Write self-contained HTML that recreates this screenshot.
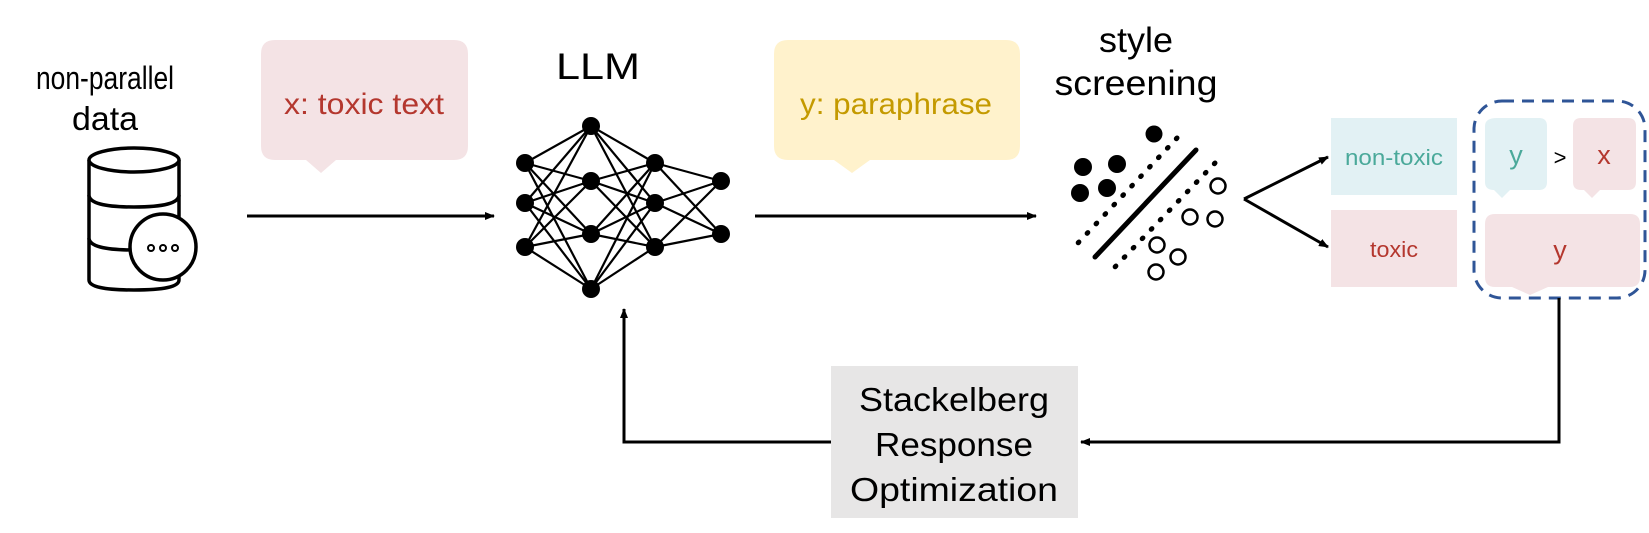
<!DOCTYPE html>
<html><head><meta charset="utf-8"><style>
html,body{margin:0;padding:0;background:#fff;width:1649px;height:533px;overflow:hidden}
svg{display:block}
text{font-family:"Liberation Sans",sans-serif}
</style></head><body>
<svg width="1649" height="533" viewBox="0 0 1649 533" xmlns="http://www.w3.org/2000/svg">
<defs>
<marker id="ah" markerWidth="10" markerHeight="10" refX="9" refY="5" orient="auto" markerUnits="userSpaceOnUse">
<path d="M0,1 L10,5 L0,9 Z" fill="#000"/></marker>
</defs>
<!-- non-parallel data -->
<text x="105" y="89" font-size="32" text-anchor="middle" textLength="138" lengthAdjust="spacingAndGlyphs">non-parallel</text>
<text x="105" y="130" font-size="33" text-anchor="middle" textLength="66" lengthAdjust="spacingAndGlyphs">data</text>
<!-- DB icon -->
<g fill="#fff" stroke="#000" stroke-width="3.5">
<path d="M89,160 L89,280 Q89,290 134,290 Q179,290 179,280 L179,160"/>
<ellipse cx="134" cy="160" rx="45" ry="12"/>
<path d="M89,195 Q89,207 134,207 Q179,207 179,195"/>
<path d="M89,238 Q89,250 134,250 Q179,250 179,238"/>
<circle cx="163" cy="247" r="33"/>
</g>
<g fill="none" stroke="#000" stroke-width="2"><circle cx="151" cy="248" r="3"/><circle cx="163" cy="248" r="3"/><circle cx="175" cy="248" r="3"/></g>
<!-- arrow 1 -->
<line x1="247" y1="216" x2="494" y2="216" stroke="#000" stroke-width="3" marker-end="url(#ah)"/>
<!-- pink bubble -->
<path d="M275,40 H454 Q468,40 468,54 V146 Q468,160 454,160 H336 L321,173 L306,160 H275 Q261,160 261,146 V54 Q261,40 275,40 Z" fill="#f4e3e5"/>
<text x="364" y="114" font-size="30" fill="#b4372e" text-anchor="middle" textLength="160" lengthAdjust="spacingAndGlyphs">x: toxic text</text>
<!-- LLM -->
<text x="598" y="79" font-size="37" text-anchor="middle" textLength="84" lengthAdjust="spacingAndGlyphs">LLM</text>
<g stroke="#000" stroke-width="2.2">
<line x1="525" y1="163" x2="591" y2="126"/><line x1="525" y1="163" x2="591" y2="181"/><line x1="525" y1="163" x2="591" y2="234"/><line x1="525" y1="163" x2="591" y2="289"/>
<line x1="525" y1="203" x2="591" y2="126"/><line x1="525" y1="203" x2="591" y2="181"/><line x1="525" y1="203" x2="591" y2="234"/><line x1="525" y1="203" x2="591" y2="289"/>
<line x1="525" y1="247" x2="591" y2="126"/><line x1="525" y1="247" x2="591" y2="181"/><line x1="525" y1="247" x2="591" y2="234"/><line x1="525" y1="247" x2="591" y2="289"/>
<line x1="655" y1="163" x2="591" y2="126"/><line x1="655" y1="163" x2="591" y2="181"/><line x1="655" y1="163" x2="591" y2="234"/><line x1="655" y1="163" x2="591" y2="289"/>
<line x1="655" y1="203" x2="591" y2="126"/><line x1="655" y1="203" x2="591" y2="181"/><line x1="655" y1="203" x2="591" y2="234"/><line x1="655" y1="203" x2="591" y2="289"/>
<line x1="655" y1="247" x2="591" y2="126"/><line x1="655" y1="247" x2="591" y2="181"/><line x1="655" y1="247" x2="591" y2="234"/><line x1="655" y1="247" x2="591" y2="289"/>
<line x1="655" y1="163" x2="721" y2="181"/><line x1="655" y1="163" x2="721" y2="234"/><line x1="655" y1="203" x2="721" y2="181"/><line x1="655" y1="203" x2="721" y2="234"/><line x1="655" y1="247" x2="721" y2="181"/><line x1="655" y1="247" x2="721" y2="234"/>
</g>
<g fill="#000">
<circle cx="525" cy="163" r="9"/><circle cx="525" cy="203" r="9"/><circle cx="525" cy="247" r="9"/>
<circle cx="591" cy="126" r="9"/><circle cx="591" cy="181" r="9"/><circle cx="591" cy="234" r="9"/><circle cx="591" cy="289" r="9"/>
<circle cx="655" cy="163" r="9"/><circle cx="655" cy="203" r="9"/><circle cx="655" cy="247" r="9"/>
<circle cx="721" cy="181" r="9"/><circle cx="721" cy="234" r="9"/>
</g>
<!-- arrow 2 -->
<line x1="755" y1="216" x2="1036" y2="216" stroke="#000" stroke-width="3" marker-end="url(#ah)"/>
<!-- yellow bubble -->
<path d="M788,40 H1006 Q1020,40 1020,54 V146 Q1020,160 1006,160 H870 L852,173 L834,160 H788 Q774,160 774,146 V54 Q774,40 788,40 Z" fill="#fff2cc"/>
<text x="896" y="114" font-size="30" fill="#c49a00" text-anchor="middle" textLength="192" lengthAdjust="spacingAndGlyphs">y: paraphrase</text>
<!-- style screening -->
<text x="1136" y="52" font-size="35" text-anchor="middle" textLength="74" lengthAdjust="spacingAndGlyphs">style</text>
<text x="1136" y="95" font-size="35" text-anchor="middle" textLength="163" lengthAdjust="spacingAndGlyphs">screening</text>
<g fill="#000"><circle cx="1154" cy="134" r="8.5"/><circle cx="1083" cy="167" r="9"/><circle cx="1117" cy="164" r="9"/><circle cx="1080" cy="193" r="9"/><circle cx="1107" cy="188" r="9"/></g>
<g fill="none" stroke="#000" stroke-width="2.5"><circle cx="1218" cy="186" r="7.5"/><circle cx="1190" cy="217" r="7.5"/><circle cx="1215" cy="219" r="7.5"/><circle cx="1157" cy="245" r="7.5"/><circle cx="1178" cy="257" r="7.5"/><circle cx="1156" cy="272" r="7.5"/></g>
<line x1="1196" y1="150" x2="1095" y2="257" stroke="#000" stroke-width="5" stroke-linecap="round"/>
<line x1="1177" y1="138" x2="1078" y2="243" stroke="#000" stroke-width="5" stroke-linecap="round" stroke-dasharray="1 12"/>
<line x1="1215" y1="163" x2="1114" y2="268" stroke="#000" stroke-width="5" stroke-linecap="round" stroke-dasharray="1 12"/>
<!-- branch arrows -->
<line x1="1244" y1="199" x2="1328" y2="157" stroke="#000" stroke-width="3" marker-end="url(#ah)"/>
<line x1="1244" y1="199" x2="1328" y2="247" stroke="#000" stroke-width="3" marker-end="url(#ah)"/>
<rect x="1331" y="118" width="126" height="77" fill="#e2f1f4"/>
<text x="1394" y="165" font-size="22" fill="#4aa99a" text-anchor="middle" textLength="98" lengthAdjust="spacingAndGlyphs">non-toxic</text>
<rect x="1331" y="210" width="126" height="77" fill="#f4e3e5"/>
<text x="1394" y="257" font-size="22" fill="#b4372e" text-anchor="middle" textLength="48" lengthAdjust="spacingAndGlyphs">toxic</text>
<!-- right panel -->
<path d="M1497,118 H1539 Q1547,118 1547,126 V182 Q1547,190 1539,190 H1510 L1502,198 L1494,190 Q1485,190 1485,182 V126 Q1485,118 1497,118 Z" fill="#e2f1f4"/>
<text x="1516" y="164" font-size="27" fill="#4aa99a" text-anchor="middle">y</text>
<text x="1560" y="165" font-size="22" text-anchor="middle">&gt;</text>
<path d="M1581,118 H1628 Q1636,118 1636,126 V182 Q1636,190 1628,190 H1600 L1592,198 L1584,190 H1581 Q1573,190 1573,182 V126 Q1573,118 1581,118 Z" fill="#f4e3e5"/>
<text x="1604" y="164" font-size="27" fill="#b4372e" text-anchor="middle">x</text>
<path d="M1495,214 H1630 Q1640,214 1640,224 V277 Q1640,287 1630,287 H1548 L1530,295 L1512,287 H1495 Q1485,287 1485,277 V224 Q1485,214 1495,214 Z" fill="#f4e3e5"/>
<text x="1560" y="259" font-size="27" fill="#b4372e" text-anchor="middle">y</text>
<rect x="1474" y="101" width="171" height="197" rx="28" fill="none" stroke="#2f5597" stroke-width="3" stroke-dasharray="12 8"/>
<!-- feedback -->
<polyline points="1559,298 1559,442 1081,442" fill="none" stroke="#000" stroke-width="3" marker-end="url(#ah)"/>
<rect x="831" y="366" width="247" height="152" fill="#e7e6e6"/>
<text x="954" y="411" font-size="33" text-anchor="middle" textLength="190" lengthAdjust="spacingAndGlyphs">Stackelberg</text>
<text x="954" y="456" font-size="33" text-anchor="middle" textLength="158" lengthAdjust="spacingAndGlyphs">Response</text>
<text x="954" y="501" font-size="33" text-anchor="middle" textLength="208" lengthAdjust="spacingAndGlyphs">Optimization</text>
<polyline points="831,442 624,442 624,309" fill="none" stroke="#000" stroke-width="3" marker-end="url(#ah)"/>
</svg>
</body></html>
